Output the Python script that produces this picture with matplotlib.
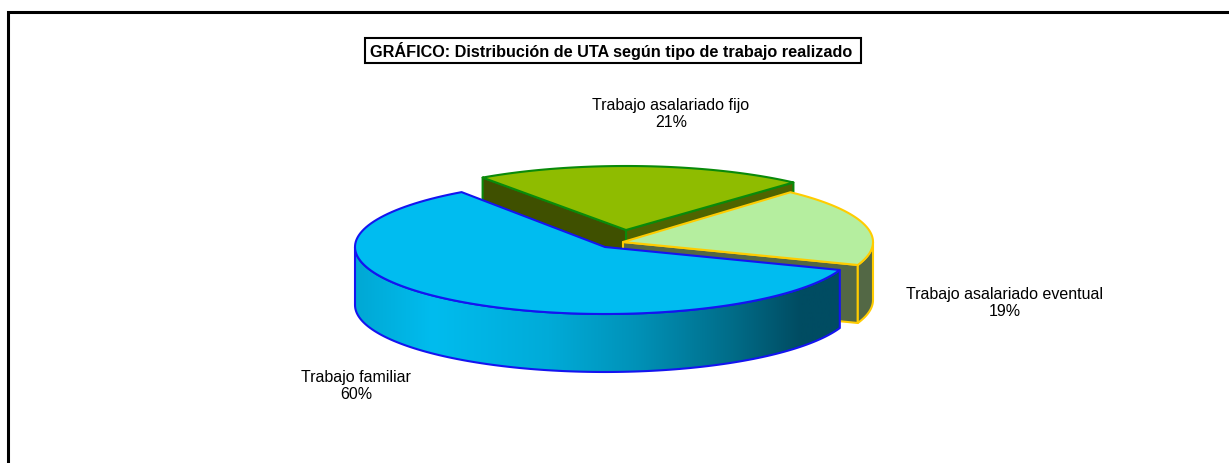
import numpy as np
import matplotlib
matplotlib.use("Agg")
import matplotlib.pyplot as plt
from matplotlib.colors import LinearSegmentedColormap
from matplotlib.patches import Polygon, Rectangle

title = "GRÁFICO: Distribución de UTA según tipo de trabajo realizado"
categories = ["Trabajo familiar", "Trabajo asalariado eventual", "Trabajo asalariado fijo"]
shares = [59.7, 18.9, 21.4]

# pie geometry, in pixels of the picture
rx = 250
radiiY = [67, 67, 64]
depth = 58
startAngle = 125
centers = [(605, 247), (623, 242), (626, 230)]
topColors = ["#00BCF0", "#B5EE9F", "#8FBC00"]
edgeColors = ["#1414F0", "#FFCC00", "#0A8A0A"]
labelPos = [(356, 386), (1005, 303), (671, 114)]

plt.rcParams["font.family"] = ["Liberation Sans", "DejaVu Sans"]

def arc(center, ry, a0, a1, n=120):
    t = np.radians(np.linspace(a0, a1, n))
    return np.column_stack((center[0] + rx*np.cos(t), center[1] - ry*np.sin(t)))

def addPoly(ax, pts, face, edge, lw=1.5, z=1):
    p = Polygon(pts, closed=True, facecolor=face, edgecolor=edge, linewidth=lw, joinstyle="round", zorder=z)
    ax.add_patch(p)
    return p

def sideFace(pts):
    return np.vstack((pts, pts[::-1] + [0, depth]))

fig = plt.figure(figsize=(12.29, 4.63), dpi=100)
ax = fig.add_axes([0, 0, 1, 1])
ax.set_xlim(0, 1229)
ax.set_ylim(463, 0)
ax.axis("off")

# frame: only the top and left lines are in the picture
ax.plot([7.5, 7.5, 1229], [463, 11.5, 11.5], color="black", lw=2.2, solid_joinstyle="miter", zorder=1)

angles = startAngle + np.cumsum([0] + list(np.array(shares)/sum(shares)*360))

# green slice, at the back
c = centers[2]
a0, a1 = angles[2], angles[3]
top = arc(c, radiiY[2], a0, a1)
addPoly(ax, sideFace(np.array([c, top[0]])), "#4F6400", edgeColors[2], z=2)
addPoly(ax, sideFace(np.array([top[-1], c])), "#3F5000", edgeColors[2], z=2)
addPoly(ax, np.vstack(([c], top)), topColors[2], edgeColors[2], z=3)

# yellow slice
c = centers[1]
a0, a1 = angles[1], angles[2]
top = arc(c, radiiY[1], a0, a1)
addPoly(ax, sideFace(np.array([c, top[0]])), "#536845", edgeColors[1], z=4)
addPoly(ax, sideFace(arc(c, radiiY[1], a0, 360)), "#536845", edgeColors[1], z=4)
addPoly(ax, np.vstack(([c], top)), topColors[1], edgeColors[1], z=5)

# blue slice, with the shaded rim
c = centers[0]
a0, a1 = angles[0], angles[1]
top = arc(c, radiiY[0], a0, a1)
rim = sideFace(arc(c, radiiY[0], 180, a1))
shade = LinearSegmentedColormap.from_list("rim", [(0, "#00A8D4"), (0.16, "#00BCEE"), (0.4, "#00ABD8"),
                                                  (0.58, "#0092B8"), (0.78, "#006C88"), (0.92, "#004C62"),
                                                  (1, "#004C62")])
side = addPoly(ax, rim, "none", "none", lw=0, z=6)
im = ax.imshow(np.linspace(0, 1, 256)[None, :], cmap=shade, extent=(rim[:, 0].min(), rim[:, 0].max(), 463, 0),
               aspect="auto", zorder=6)
im.set_clip_path(side)
addPoly(ax, rim, "none", edgeColors[0], z=7)
addPoly(ax, np.vstack(([c], top)), topColors[0], edgeColors[0], z=8)
ax.set_xlim(0, 1229)
ax.set_ylim(463, 0)

for name, share, (x, y) in zip(categories, shares, labelPos):
    ax.text(x, y, f"{name}\n{share:.0f}%", ha="center", va="center", fontsize=11.5, linespacing=1.15, color="black", zorder=9)

ax.add_patch(Rectangle((364.5, 38), 496.5, 24.5, facecolor="white", edgecolor="black", linewidth=1.5, zorder=9))
ax.text(611.5, 50.5, title, ha="center", va="center", fontsize=11.7, fontweight="bold", color="black", zorder=10)

fig.savefig("out.png", dpi=100)
